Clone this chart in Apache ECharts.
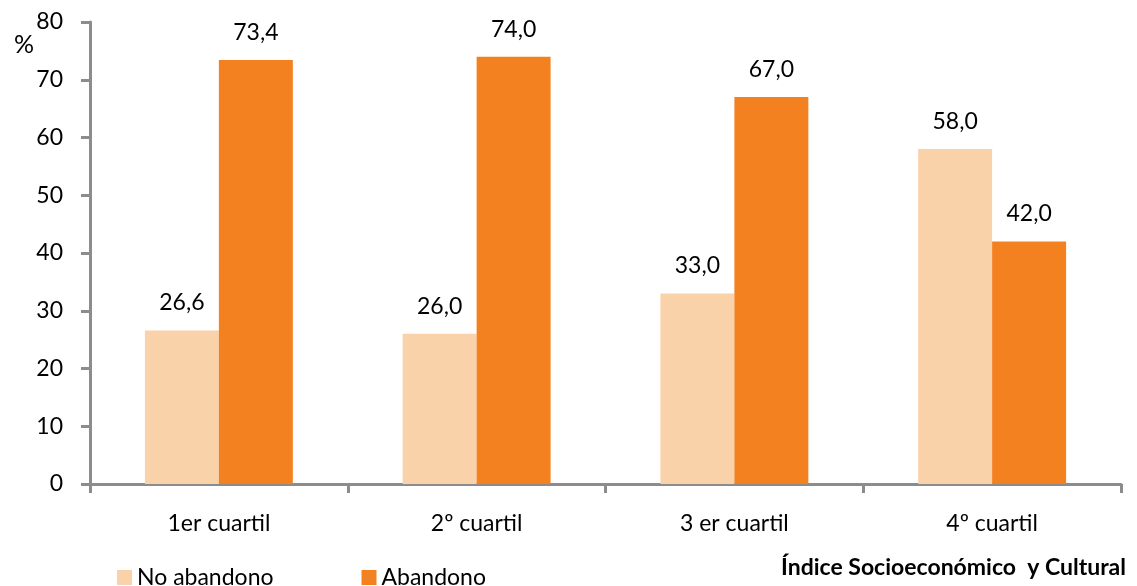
<!DOCTYPE html>
<html lang="es">
<head>
    <meta charset="UTF-8">
    <title>Abandono por cuartil</title>
    <script src="https://cdn.jsdelivr.net/npm/echarts@6/dist/echarts.min.js"></script>
    <style>
        html, body { margin: 0; padding: 0; background: #fff; }
        #chart { width: 1137px; height: 586px; }
    </style>
</head>
<body>
    <div id="chart"></div>
    <script>
        var categories = ['1er cuartil', '2º cuartil', '3 er cuartil', '4º cuartil'];
        var noAbandono = [26.6, 26.0, 33.0, 58.0];
        var abandono = [73.4, 74.0, 67.0, 42.0];
        var yTicks = [0, 10, 20, 30, 40, 50, 60, 70, 80];

        var font = 'Lato, "Open Sans", sans-serif';
        var axisGray = '#8c8c8c';

        function fmt(p) {
            return p.value.toFixed(1).replace('.', ',');
        }

        var chart = echarts.init(document.getElementById('chart'));
        chart.setOption({
            animation: false,
            textStyle: { fontFamily: font },
            grid: { left: 90, right: 16, top: 22, bottom: 102 },
            title: [{
                text: 'Índice Socioeconómico  y Cultural',
                right: 6, top: 551,
                textStyle: { fontFamily: font, fontSize: 23, fontWeight: 'bold', color: '#000' }
            }, {
                text: '%',
                left: 9, top: 27,
                textStyle: { fontFamily: font, fontSize: 25, fontWeight: 'normal', color: '#000' }
            }],
            legend: {
                left: 112, top: 561,
                itemWidth: 15, itemHeight: 15, itemGap: 88,
                icon: 'rect',
                textStyle: { fontFamily: font, fontSize: 23, color: '#000', padding: [0, 0, 0, 0] },
                data: ['No abandono', 'Abandono']
            },
            xAxis: {
                type: 'category',
                data: categories,
                axisLine: { lineStyle: { color: axisGray, width: 3 } },
                axisTick: { show: true, length: 9, lineStyle: { color: axisGray, width: 3 } },
                axisLabel: { fontFamily: font, fontSize: 23, color: '#000', margin: 28 }
            },
            yAxis: {
                type: 'value',
                min: yTicks[0], max: yTicks[yTicks.length - 1], interval: 10,
                splitLine: { show: false },
                axisLine: { show: true, lineStyle: { color: axisGray, width: 3 } },
                axisTick: { show: true, length: 9, lineStyle: { color: axisGray, width: 3 } },
                axisLabel: { fontFamily: font, fontSize: 23, color: '#000', margin: 27 }
            },
            series: [{
                name: 'No abandono',
                type: 'bar',
                data: noAbandono,
                barWidth: '28.7%',
                barGap: '0%',
                itemStyle: { color: '#FAD2A9' },
                label: { show: true, position: 'top', distance: 16, formatter: fmt,
                         fontFamily: font, fontSize: 23, color: '#000' }
            }, {
                name: 'Abandono',
                type: 'bar',
                data: abandono,
                barWidth: '28.7%',
                itemStyle: { color: '#F48120' },
                label: { show: true, position: 'top', distance: 16, formatter: fmt,
                         fontFamily: font, fontSize: 23, color: '#000' }
            }]
        });
    </script>
</body>
</html>
